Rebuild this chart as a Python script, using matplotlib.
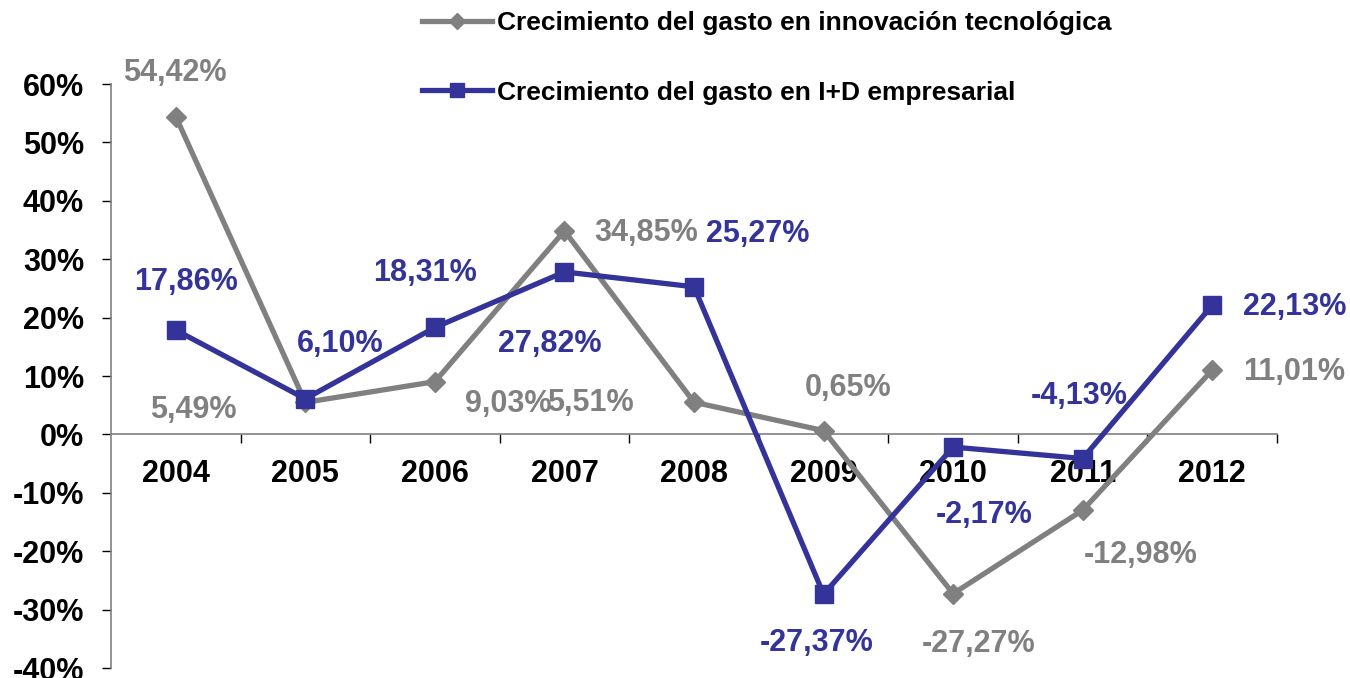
import matplotlib
matplotlib.use("Agg")
import matplotlib.pyplot as plt
from matplotlib.ticker import FixedLocator, NullFormatter, FixedFormatter

plt.rcParams['font.family'] = ['Liberation Sans', 'DejaVu Sans']

years = ['2004', '2005', '2006', '2007', '2008', '2009', '2010', '2011', '2012']
innovacion = [54.42, 5.49, 9.03, 34.85, 5.51, 0.65, -27.27, -12.98, 11.01]
id_empresarial = [17.86, 6.10, 18.31, 27.82, 25.27, -27.37, -2.17, -4.13, 22.13]
innovacion_labels = ['54,42%', '5,49%', '9,03%', '34,85%', '5,51%', '0,65%', '-27,27%', '-12,98%', '11,01%']
id_labels = ['17,86%', '6,10%', '18,31%', '27,82%', '25,27%', '-27,37%', '-2,17%', '-4,13%', '22,13%']
serie_innov = 'Crecimiento del gasto en innovación tecnológica'
serie_id = 'Crecimiento del gasto en I+D empresarial'
yticks = [-40, -30, -20, -10, 0, 10, 20, 30, 40, 50, 60]

GRAY = '#808080'
BLUE = '#333399'

# label offsets in pixels (dx right, dy up)
off_innov = [(-1, 44), (-112, -8), (73, -22), (82, -2), (-104, -1), (25, 43), (25, -50), (58, -45), (82, -2)]
off_id = [(10, 48), (35, 55), (-10, 54), (-15, -72), (64, 53), (-7, -49), (31, -68), (-3, 63), (82, -2)]

fig = plt.figure(figsize=(13.5, 6.78), dpi=100)
ax = fig.add_axes([111/1350, 1-668/678, (1277-111)/1350, (668-84)/678])

x = list(range(len(years)))
l1, = ax.plot(x, innovacion, color=GRAY, lw=3.8, marker='D', ms=10, zorder=3, label=serie_innov)
l2, = ax.plot(x, id_empresarial, color=BLUE, lw=3.8, marker='s', ms=13, zorder=4, label=serie_id)

for xi, v, lab, (dx, dy) in zip(x, innovacion, innovacion_labels, off_innov):
    ax.annotate(lab, (xi, v), xytext=(dx, dy), textcoords='offset pixels',
                ha='center', va='center', fontsize=22, fontweight='bold', color=GRAY,
                annotation_clip=False, zorder=5)
for xi, v, lab, (dx, dy) in zip(x, id_empresarial, id_labels, off_id):
    ax.annotate(lab, (xi, v), xytext=(dx, dy), textcoords='offset pixels',
                ha='center', va='center', fontsize=22, fontweight='bold', color=BLUE,
                annotation_clip=False, zorder=5)

ax.set_xlim(-0.5, len(years) - 0.5)
ax.set_ylim(-40, 60)

ax.spines['top'].set_visible(False)
ax.spines['right'].set_visible(False)
ax.spines['bottom'].set_position(('data', 0))
ax.spines['bottom'].set_color(GRAY)
ax.spines['left'].set_color(GRAY)
ax.spines['bottom'].set_linewidth(1.2)
ax.spines['left'].set_linewidth(1.2)

ax.set_yticks(yticks)
ax.set_yticklabels([f'{t}%' for t in yticks])
ax.tick_params(axis='y', length=6.5, width=1, pad=13, labelsize=22, direction='out')
for t in ax.get_yticklabels():
    t.set_fontweight('bold')

ax.xaxis.set_major_locator(FixedLocator([i + 0.5 for i in range(len(years))]))
ax.xaxis.set_major_formatter(NullFormatter())
ax.xaxis.set_minor_locator(FixedLocator(x))
ax.xaxis.set_minor_formatter(FixedFormatter(years))
ax.tick_params(axis='x', which='major', length=6.5, width=1, direction='out')
ax.tick_params(axis='x', which='minor', length=0, pad=18, labelsize=22)
for t in ax.get_xticklabels(minor=True):
    t.set_fontweight('bold')

leg = fig.legend(handles=[l1, l2], loc='upper left', bbox_to_anchor=(422/1350, 1-11/678),
                 frameon=False, prop={'weight': 'bold', 'size': 19},
                 handlelength=2.65, handletextpad=0.19, labelspacing=1.73, borderpad=0,
                 borderaxespad=0, markerscale=0.8)

fig.savefig('out.png', dpi=100)
